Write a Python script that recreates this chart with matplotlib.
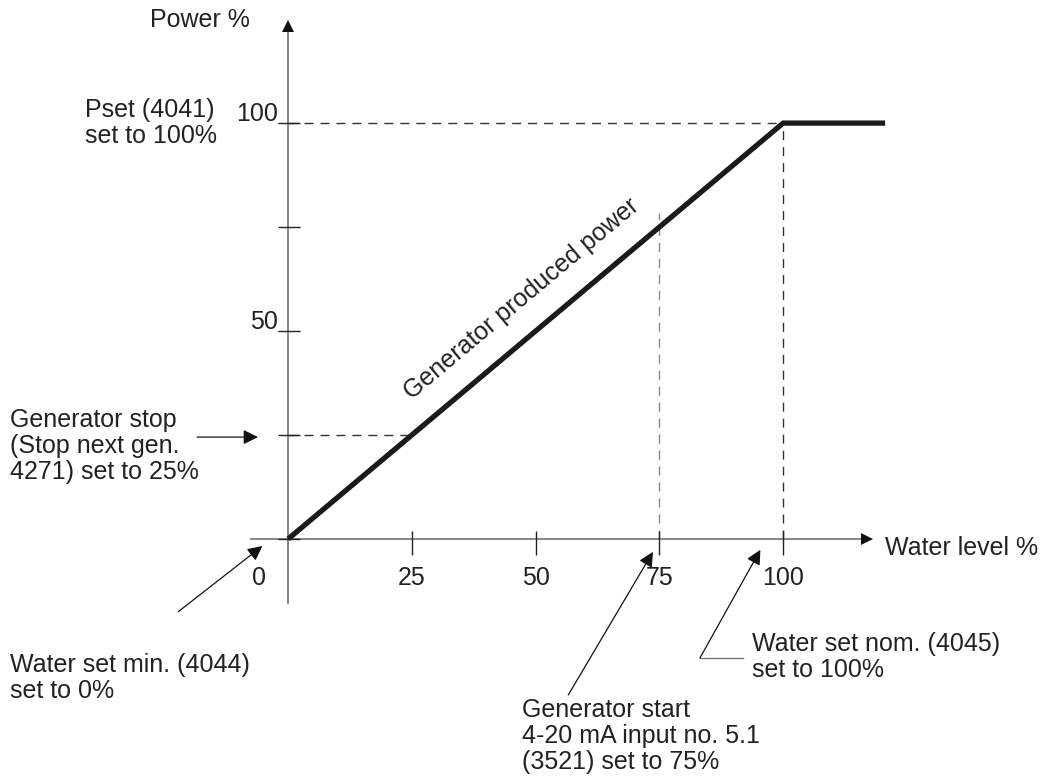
"""Generator power vs water level diagram."""
import matplotlib
matplotlib.use("Agg")
import matplotlib.pyplot as plt

plt.rcParams['font.family'] = ['Liberation Sans', 'DejaVu Sans']

# data
water_level = [0, 100, 120.6]
power = [0, 100, 100]
x_ticks = [25, 50, 75, 100]
y_ticks = [0, 25, 50, 75, 100]
y_tick_labels = {50: "50", 100: "100"}
stop_power = 25        # generator stop (4271)
start_level = 75       # generator start (3521)
nominal_level = 100    # water set nom. (4045)
pset = 100             # Pset (4041)

TXT = "#222222"
AX = "#858585"
FS = 18

fig = plt.figure(figsize=(10.48, 7.81), dpi=100)
ax = fig.add_axes([0, 0, 1, 1])
ax.set_xlim(-58.2, 153.5)
ax.set_ylim(-58.2, 129.6)
ax.axis("off")

# axes with arrow heads
ax.plot([-7.5, 116], [0, 0], color=AX, lw=1.4, zorder=2)
ax.plot([0, 0], [-15.4, 122], color=AX, lw=1.4, zorder=2)
ax.plot([117.0], [0], marker=">", ms=8, color="#111111", mew=0, zorder=3)
ax.plot([0], [123.3], marker="^", ms=9, color="#111111", mew=0, zorder=3)

# ticks
ax.vlines(x_ticks, -3.85, 1.9, color="#222222", lw=1.0, zorder=2)
ax.hlines(y_ticks, -2.0, 2.4, color="#222222", lw=1.0, zorder=2)
for t in x_ticks:
    ax.text(t, -9.4, str(t), ha="center", va="center", fontsize=FS, color=TXT)
ax.text(-5.9, -9.4, "0", ha="center", va="center", fontsize=FS, color=TXT)
for t, lab in y_tick_labels.items():
    ax.text(-2.0, t + 0.5, lab, ha="right", va="baseline", fontsize=FS, color=TXT)

# dashed helper lines
dash = dict(lw=1.0, dashes=(6.5, 5), zorder=1)
ax.plot([0, nominal_level], [pset, pset], color="#333333", **dash)
ax.plot([nominal_level, nominal_level], [0, pset], color="#333333", **dash)
ax.plot([start_level, start_level], [0, 78.4], color="#8a8a8a", **dash)
ax.plot([0, stop_power], [stop_power, stop_power], color="#333333", **dash)

# generator produced power
ax.plot(water_level, power, color="#1a1a1a", lw=3.8, solid_capstyle="butt",
        solid_joinstyle="miter", zorder=4)
ax.text(47.1, 57.8, "Generator produced power", rotation=40, rotation_mode="anchor",
        ha="center", va="center", fontsize=FS, color=TXT)

# axis titles
ax.text(-27.9, 124.8, "Power %", ha="left", va="center", fontsize=FS, color=TXT)
ax.text(120.6, -2.2, "Water level %", ha="left", va="center", fontsize=FS, color=TXT)

# annotations
ls = 1.12
ax.text(-41.0, 100.0, "Pset (4041)\nset to 100%", ha="left", va="center",
        fontsize=FS, color=TXT, linespacing=ls)
ax.text(-56.2, 22.4, "Generator stop\n(Stop next gen.\n4271) set to 25%", ha="left",
        va="center", fontsize=FS, color=TXT, linespacing=ls)
ax.text(-56.2, -33.4, "Water set min. (4044)\nset to 0%", ha="left", va="center",
        fontsize=FS, color=TXT, linespacing=ls)
ax.text(93.7, -28.4, "Water set nom. (4045)\nset to 100%", ha="left", va="center",
        fontsize=FS, color=TXT, linespacing=ls)
ax.text(47.3, -47.4, "Generator start\n4-20 mA input no. 5.1\n(3521) set to 75%",
        ha="left", va="center", fontsize=FS, color=TXT, linespacing=ls)

arrow = dict(arrowstyle="-|>,head_length=0.4,head_width=0.2", color="#111111",
             lw=0.9, shrinkA=0, shrinkB=0, mutation_scale=22)
ax.annotate("", xy=(-6.1, 24.5), xytext=(-18.4, 24.5), arrowprops=arrow)
ax.annotate("", xy=(-5.2, -1.7), xytext=(-22.2, -17.5), arrowprops=arrow)
ax.annotate("", xy=(73.7, -3.1), xytext=(56.6, -37.5), arrowprops=arrow)
ax.annotate("", xy=(95.4, -2.6), xytext=(83.2, -28.6), arrowprops=arrow)
ax.plot([83.2, 91.9], [-28.6, -28.6], color="#777777", lw=1.0)

fig.savefig("out.png", dpi=100)
